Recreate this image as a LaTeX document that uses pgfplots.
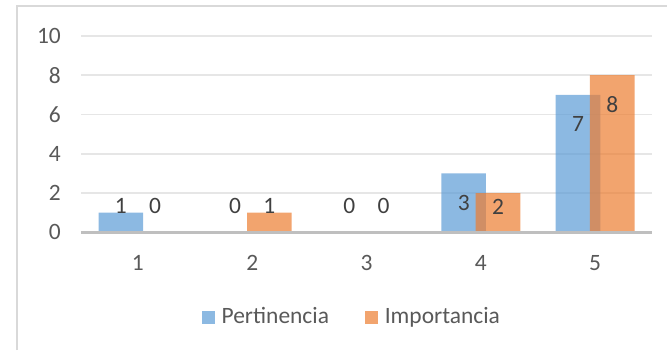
\documentclass[border=0pt]{standalone}
\usepackage{pgfplots}
\pgfplotsset{compat=1.18}
\usepackage{fontspec}
\setmainfont{Carlito}
\definecolor{cblue}{HTML}{5B9BD5}
\definecolor{corange}{HTML}{ED7D31}
\definecolor{ctick}{HTML}{595959}
\definecolor{clab}{HTML}{404040}
\definecolor{cgrid}{HTML}{E6E6E6}
\definecolor{caxis}{HTML}{BFBFBF}
\definecolor{cborder}{HTML}{D9D9D9}
\newcommand{\cf}{\fontsize{11.8}{14}\selectfont}
\begin{document}
\begin{tikzpicture}
\begin{axis}[
  at={(0,0)}, anchor=south west,
  scale only axis,
  width=286.5bp, height=98.5bp,
  xmin=0.5, xmax=5.5, ymin=0, ymax=10,
  xtick={1,2,3,4,5},
  ytick={0,2,4,6,8,10},
  /pgf/number format/assume math mode=true,
  major tick length=0pt,
  axis line style={draw=none},
  axis x line*=bottom,
  axis y line*=left,
  ymajorgrids,
  major grid style={cgrid, line width=0.75bp},
  tick label style={font=\cf, text=ctick},
  yticklabel style={xshift=-6.5bp},
  xticklabel style={yshift=-8bp},
  legend style={at={(0.4760,-0.431)}, anchor=center, draw=none, fill=none,
    legend columns=2, font=\cf, text=ctick,
    /tikz/every even column/.append style={column sep=16bp}},
  legend image code/.code={\fill[#1] (0bp,-3.25bp) rectangle (6.5bp,3.25bp);},
  clip=false,
]
\addplot[ybar, bar width=0.39, bar shift=-0.15, fill=cblue, fill opacity=0.7, draw=none]
  coordinates {(1,1) (2,0) (3,0) (4,3) (5,7)};
\addlegendentry{\hspace{1.5bp}Pertinencia}
\addplot[ybar, bar width=0.39, bar shift=0.15, fill=corange, fill opacity=0.7, draw=none]
  coordinates {(1,0) (2,1) (3,0) (4,2) (5,8)};
\addlegendentry{\hspace{1.5bp}Importancia}
\draw[caxis, line width=1.25bp] (rel axis cs:0,0) -- (rel axis cs:1,0);
% data labels
\addplot[draw=none, mark=none, forget plot, nodes near coords,
  point meta=explicit symbolic,
  nodes near coords style={anchor=center, font=\cf, text=clab, inner sep=0pt}]
  table[meta=lab] {
x y lab
0.85 1.32 1
1.15 1.32 0
1.85 1.32 0
2.15 1.32 1
2.85 1.32 0
3.15 1.32 0
3.85 1.52 3
4.15 1.30 2
4.85 5.51 7
5.15 6.52 8
};
\end{axis}
\draw[cborder, line width=0.75bp] (-32bp,-59bp) -- (-32bp,113.5bp) -- (294bp,113.5bp);
\path[use as bounding box] (-40.5bp,-59bp) rectangle (293.5bp,116.5bp);
\end{tikzpicture}
\end{document}
